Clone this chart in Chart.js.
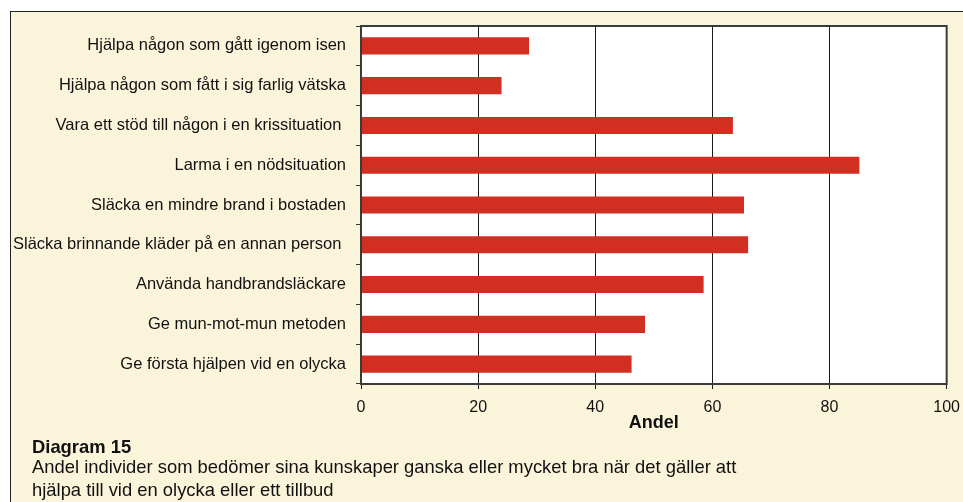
<!DOCTYPE html>
<html>
<head>
<meta charset="utf-8">
<script src="https://cdn.jsdelivr.net/npm/chart.js@4"></script>
<style>
  html, body { margin:0; padding:0; width:963px; height:502px; overflow:hidden; background:#ffffff; }
  #box { position:absolute; left:10px; top:11px; width:1000px; height:600px; border:1px solid #222; background:#FAF5DA; }
  #wrap { position:absolute; left:0; top:0; width:969px; height:436px; }
  .cap { position:absolute; left:32px; font-family:"Liberation Sans", Arial, sans-serif; font-size:18.4px; line-height:23px; color:#111; white-space:nowrap; }
</style>
</head>
<body>
<div id="box"></div>
<div id="wrap"><canvas id="c" width="969" height="436"></canvas></div>
<div class="cap" style="top:435px; font-weight:bold;">Diagram 15</div>
<div class="cap" style="top:455px;">Andel individer som bedömer sina kunskaper ganska eller mycket bra när det gäller att<br>hjälpa till vid en olycka eller ett tillbud</div>
<script>
const categories = [
  "Hjälpa någon som gått igenom isen",
  "Hjälpa någon som fått i sig farlig vätska",
  "Vara ett stöd till någon i en krissituation ",
  "Larma i en nödsituation",
  "Släcka en mindre brand i bostaden",
  "Släcka brinnande kläder på en annan person ",
  "Använda handbrandsläckare",
  "Ge mun-mot-mun metoden",
  "Ge första hjälpen vid en olycka"
];
const values = [28.7, 24.0, 63.5, 85.1, 65.4, 66.1, 58.5, 48.5, 46.2];
const xMin = 0, xMax = 100, xStep = 20;
const axisTitle = "Andel";

const plotBg = {
  id: 'plotBg',
  beforeDraw(chart) {
    const {ctx, chartArea: a} = chart;
    ctx.save();
    ctx.fillStyle = '#ffffff';
    ctx.fillRect(a.left, a.top, a.right - a.left, a.bottom - a.top);
    ctx.restore();
  },
  afterDraw(chart) {
    const {ctx, chartArea: a} = chart;
    ctx.save();
    ctx.strokeStyle = '#3a3a3a';
    ctx.lineWidth = 2;
    ctx.strokeRect(a.left, a.top, a.right - a.left, a.bottom - a.top);
    ctx.restore();
  }
};

const font = "'Liberation Sans', Arial, sans-serif";

new Chart(document.getElementById('c'), {
  type: 'bar',
  data: {
    labels: categories,
    datasets: [{
      data: values,
      backgroundColor: '#D22F23',
      borderWidth: 0,
      barPercentage: 0.43,
      categoryPercentage: 1.0
    }]
  },
  options: {
    indexAxis: 'y',
    responsive: false,
    animation: false,
    devicePixelRatio: 1,
    layout: { padding: { top: 26, right: 0, left: 0, bottom: 0 } },
    plugins: { legend: { display: false }, tooltip: { enabled: false } },
    scales: {
      x: {
        min: xMin, max: xMax,
        ticks: { stepSize: xStep, color: '#111', padding: 9, font: { family: font, size: 16 } },
        grid: { color: '#1a1a1a', lineWidth: 1, tickLength: 5, drawTicks: true },
        border: { display: false },
        title: { display: true, text: axisTitle, color: '#111', padding: { top: 0, bottom: 2 }, font: { family: font, size: 18, weight: 'bold' } },
        afterFit(scale) { scale.height = 52; }
      },
      y: {
        ticks: { color: '#111', padding: 10, font: { family: font, size: 16.5 } },
        grid: { drawOnChartArea: false, drawTicks: true, tickLength: 5, color: '#333', offset: true },
        border: { display: false },
        afterFit(scale) { scale.width = 361; }
      }
    }
  },
  plugins: [plotBg]
});
</script>
</body>
</html>
